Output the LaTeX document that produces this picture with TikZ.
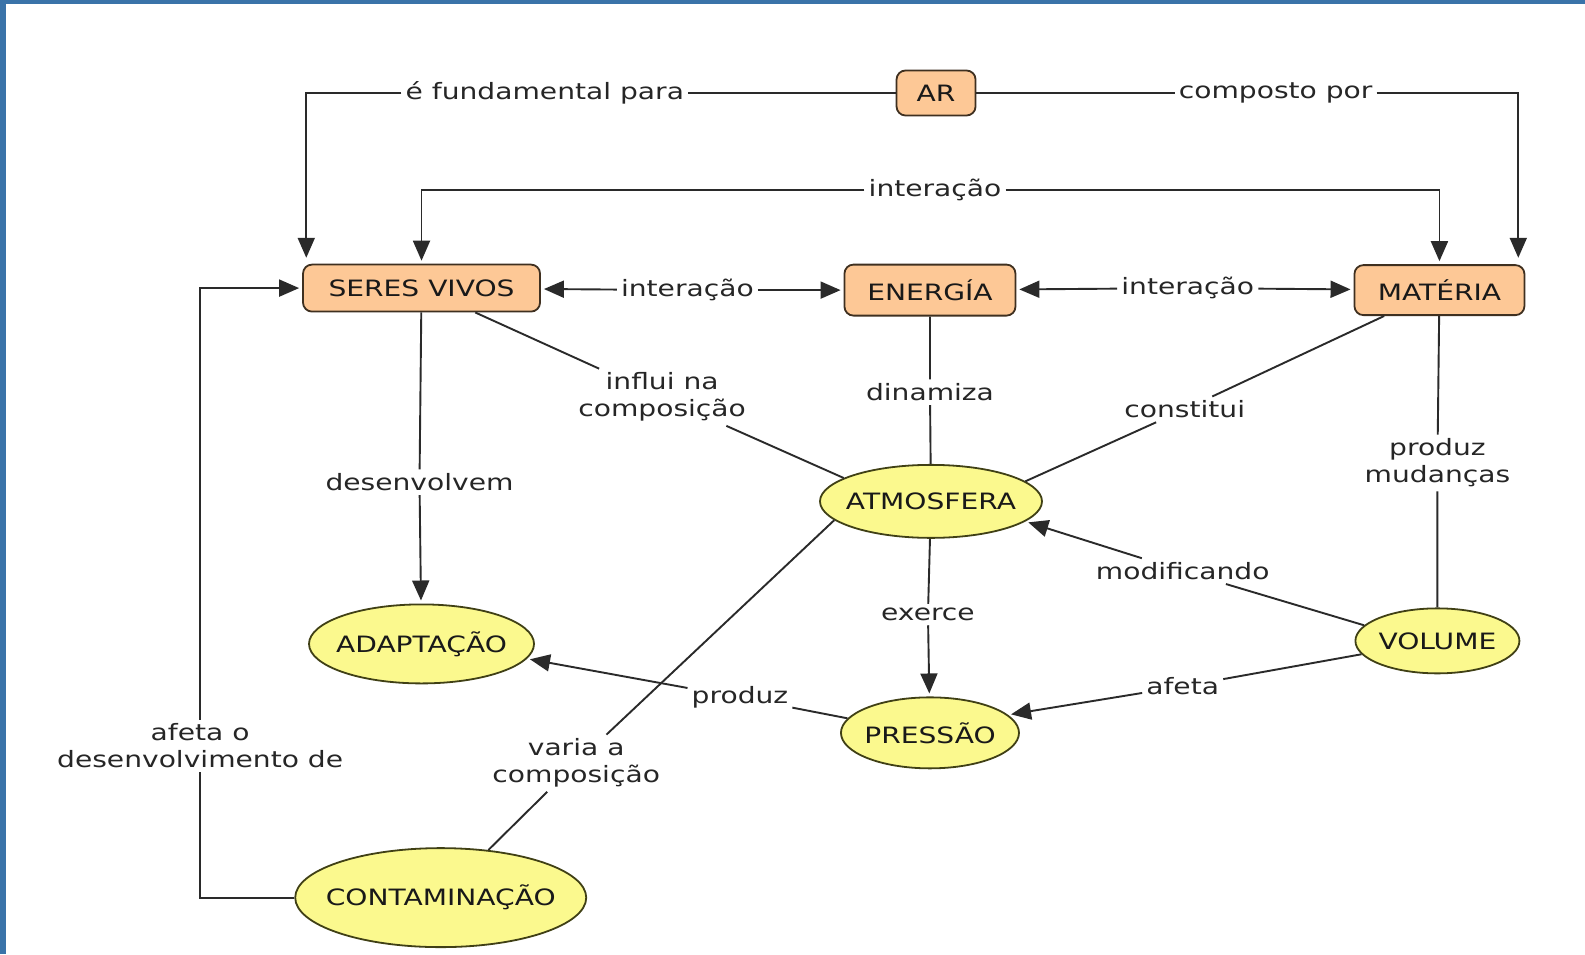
\documentclass[tikz,border=0pt]{standalone}
\usepackage{fontspec}
\setmainfont{DejaVu Sans}[FakeStretch=1.25]
\usetikzlibrary{shapes.geometric,arrows.meta}
\definecolor{peach}{HTML}{FDC896}
\definecolor{yel}{HTML}{FBF98E}
\definecolor{edgec}{HTML}{2A2A2A}
\definecolor{slide}{HTML}{3A73A9}
\definecolor{rectline}{HTML}{3F3020}
\definecolor{ellline}{HTML}{404015}
\newcommand{\mkz}[1]{\makebox[0pt]{#1}}
\begin{document}
\begin{tikzpicture}[x=1.0108pt,y=-1.0108pt,
  every node/.style={font=\fontsize{22.5}{27}\selectfont},
  rbox/.style={draw=rectline, fill=peach, rounded corners=9pt, line width=1.8pt, inner sep=0pt, text=black!90},
  ebox/.style={draw=ellline, fill=yel, ellipse, line width=1.8pt, inner sep=0pt, text=black!90},
  lab/.style={fill=white, inner sep=4pt, align=center, text=black!85},
  conn/.style={draw=edgec, line width=1.9pt},
  arr/.style={conn, -{Triangle[length=20pt,width=17pt]}, shorten >=3pt}
]
\useasboundingbox (0,0) rectangle (1568,944);
\fill[white] (0,0) rectangle (1568,944);
\fill[slide] (0,0) rectangle (6,944);
\fill[slide] (0,0) rectangle (1568,4);

% concepts
\node[rbox, minimum width=79pt, minimum height=45pt] (ar) at (926,92) {\mkz{AR}};
\node[rbox, minimum width=237pt, minimum height=47pt] (sv) at (417,285) {\mkz{SERES VIVOS}};
\node[rbox, minimum width=171pt, minimum height=51pt] (en) at (920,287) {\mkz{ENERGÍA}};
\node[rbox, minimum width=170pt, minimum height=50pt] (mat) at (1424,287) {\mkz{MATÉRIA}};
\node[ebox, minimum width=222pt, minimum height=73pt] (atm) at (921,496) {\mkz{ATMOSFERA}};
\node[ebox, minimum width=225pt, minimum height=79pt] (adap) at (417,637) {\mkz{ADAPTAÇÃO}};
\node[ebox, minimum width=178pt, minimum height=71pt] (pres) at (920,725) {\mkz{PRESSÃO}};
\node[ebox, minimum width=164pt, minimum height=65pt] (vol) at (1422,634) {\mkz{VOLUME}};
\node[ebox, minimum width=291pt, minimum height=99pt] (cont) at (436,888) {\mkz{CONTAMINAÇÃO}};

% linking phrases
\node[lab] (l1) at (539,92) {é fundamental para};
\node[lab] (l2) at (1262,92) {composto por};
\node[lab] (l3) at (925,188) {interação};
\node[lab] (l4) at (680,287) {interação};
\node[lab] (l5) at (1175,285) {interação};
\node[lab] (l6) at (655,393) {influi na\\composição};
\node[lab] (l7) at (920,388) {dinamiza};
\node[lab] (l8) at (1172,405) {constitui};
\node[lab] (l9) at (1422,458) {produz\\mudanças};
\node[lab] (l10) at (415,477) {desenvolvem};
\node[lab] (l11) at (918,608) {exerce};
\node[lab] (l12) at (1170,565) {modificando};
\node[lab] (l13) at (1170,679) {afeta};
\node[lab] (l14) at (732,690) {produz};
\node[lab] (l15) at (570,755) {varia a\\composição};
\node[lab] (l16) at (198,738) {afeta o\\desenvolvimento de};

\coordinate (t1) at (303,258);
\coordinate (t2) at (1502,258);

% connectors
\draw[conn] (ar) -- (l1);
\draw[arr] (l1) -| (t1);
\draw[conn] (ar) -- (l2);
\draw[arr] (l2) -| (t2);
\draw[arr] (l3) -| (sv);
\draw[arr] (l3) -| (mat);
\draw[arr] (l4) -- (sv);
\draw[arr] (l4) -- (en);
\draw[arr] (l5) -- (en);
\draw[arr] (l5) -- (mat);
\draw[conn] (sv) -- (l6) -- (atm.165);
\draw[conn] (en) -- (l7) -- (atm);
\draw[conn] (mat) -- (l8) -- (atm.12);
\draw[conn] (mat) -- (l9) -- (vol);
\draw[conn] (sv) -- (l10);
\draw[arr] (l10) -- (adap);
\draw[conn] (atm) -- (l11);
\draw[arr] (l11) -- (pres);
\draw[conn] (vol.168) -- (l12);
\draw[arr] (l12) -- (atm.348);
\draw[conn] (vol.190) -- (l13);
\draw[arr] (l13) -- (pres.13);
\draw[conn] (pres.170) -- (l14);
\draw[arr] (l14) -- (adap.352);
\draw[conn] (atm.191) -- (l15) -- (cont.45);
\draw[conn] (cont) -| (l16);
\draw[arr] (l16) |- (sv);
\end{tikzpicture}
\end{document}
